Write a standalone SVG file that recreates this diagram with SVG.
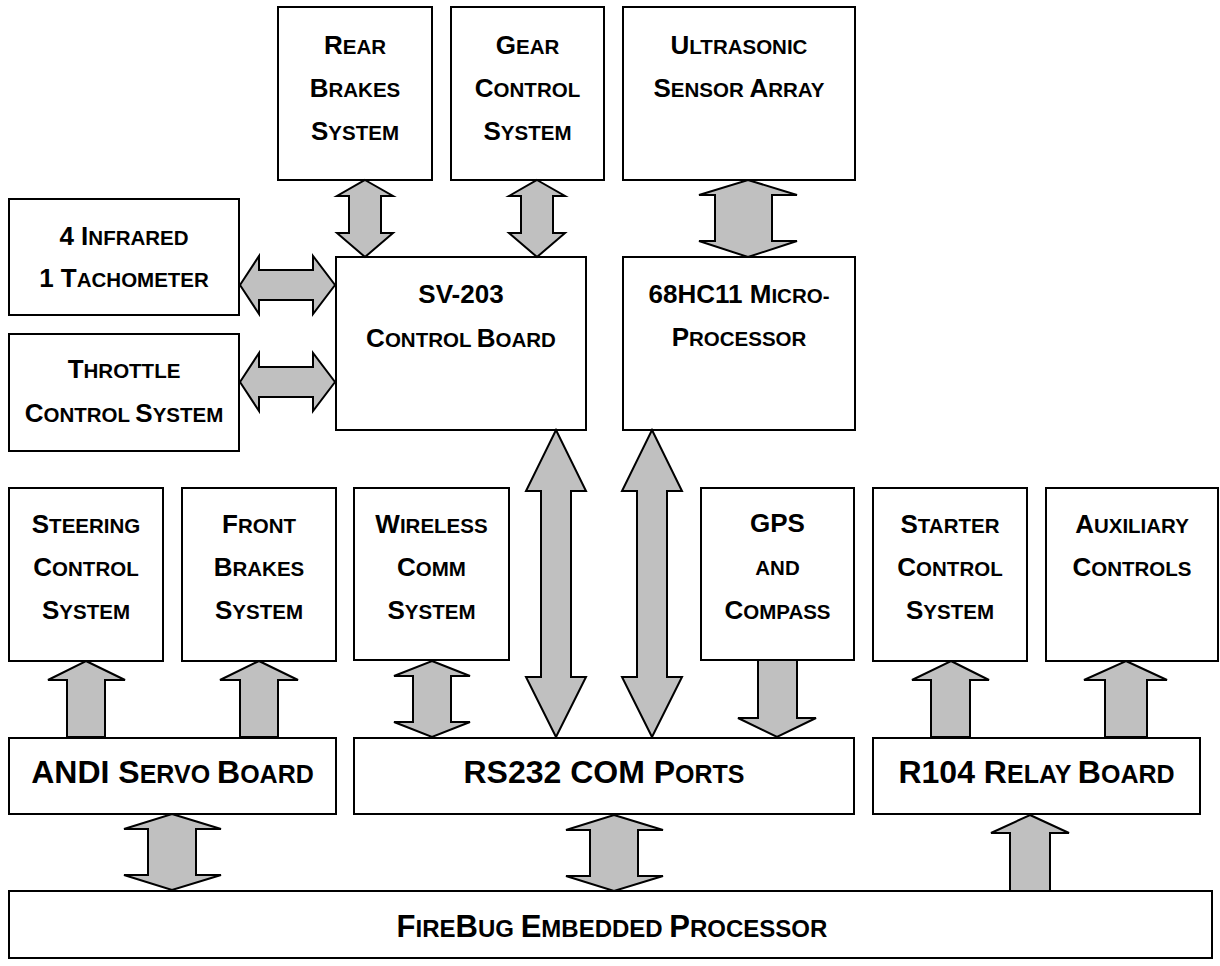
<svg xmlns="http://www.w3.org/2000/svg" width="1220" height="966" viewBox="0 0 1220 966">
<style>
.box{fill:#fff;stroke:#000;stroke-width:2}
.ar{fill:#c0c0c0;stroke:#000;stroke-width:2;stroke-linejoin:miter}
text{font-family:"Liberation Sans",Arial,sans-serif;font-weight:bold;fill:#000;text-anchor:middle}
.t{font-size:26px}
.s{font-size:20.5px}
.T{font-size:32px}
.S{font-size:25px}
.F{font-size:31px}
.f{font-size:24px}
</style>
<rect width="1220" height="966" fill="#fff"/>

<g id="rear"><rect class="box" x="278" y="7" width="154" height="173"/>
<text class="t" x="355" y="54">R<tspan class="s">EAR</tspan></text>
<text class="t" x="355" y="97">B<tspan class="s">RAKES</tspan></text>
<text class="t" x="355" y="140">S<tspan class="s">YSTEM</tspan></text></g>

<g id="gear"><rect class="box" x="451" y="7" width="153" height="173"/>
<text class="t" x="527.5" y="54">G<tspan class="s">EAR</tspan></text>
<text class="t" x="527.5" y="97">C<tspan class="s">ONTROL</tspan></text>
<text class="t" x="527.5" y="140">S<tspan class="s">YSTEM</tspan></text></g>

<g id="ultrasonic"><rect class="box" x="623" y="7" width="232" height="173"/>
<text class="t" x="739" y="54">U<tspan class="s">LTRASONIC</tspan></text>
<text class="t" x="739" y="97">S<tspan class="s">ENSOR </tspan>A<tspan class="s">RRAY</tspan></text></g>

<g id="infrared"><rect class="box" x="9" y="199" width="230" height="116"/>
<text class="t" x="124" y="245">4 I<tspan class="s">NFRARED</tspan></text>
<text class="t" x="124" y="287">1 T<tspan class="s">ACHOMETER</tspan></text></g>

<g id="throttle"><rect class="box" x="9" y="334" width="230" height="117"/>
<text class="t" x="124" y="378">T<tspan class="s">HROTTLE</tspan></text>
<text class="t" x="124" y="422">C<tspan class="s">ONTROL </tspan>S<tspan class="s">YSTEM</tspan></text></g>

<g id="sv203"><rect class="box" x="336" y="257" width="250" height="173"/>
<text class="t" x="461" y="303">SV-203</text>
<text class="t" x="461" y="347">C<tspan class="s">ONTROL </tspan>B<tspan class="s">OARD</tspan></text></g>

<g id="hc11"><rect class="box" x="623" y="257" width="232" height="173"/>
<text class="t" x="739" y="303">68HC11 M<tspan class="s">ICRO-</tspan></text>
<text class="t" x="739" y="346">P<tspan class="s">ROCESSOR</tspan></text></g>

<g id="steering"><rect class="box" x="9" y="488" width="154" height="173"/>
<text class="t" x="86" y="533">S<tspan class="s">TEERING</tspan></text>
<text class="t" x="86" y="576">C<tspan class="s">ONTROL</tspan></text>
<text class="t" x="86" y="619">S<tspan class="s">YSTEM</tspan></text></g>

<g id="front"><rect class="box" x="182" y="488" width="154" height="173"/>
<text class="t" x="259" y="533">F<tspan class="s">RONT</tspan></text>
<text class="t" x="259" y="576">B<tspan class="s">RAKES</tspan></text>
<text class="t" x="259" y="619">S<tspan class="s">YSTEM</tspan></text></g>

<g id="wireless"><rect class="box" x="354" y="488" width="155" height="172"/>
<text class="t" x="431.5" y="533">W<tspan class="s">IRELESS</tspan></text>
<text class="t" x="431.5" y="576">C<tspan class="s">OMM</tspan></text>
<text class="t" x="431.5" y="619">S<tspan class="s">YSTEM</tspan></text></g>

<g id="gps"><rect class="box" x="701" y="488" width="153" height="172"/>
<text class="t" x="777.5" y="532">GPS</text>
<text class="s" x="777.5" y="575">AND</text>
<text class="t" x="777.5" y="619">C<tspan class="s">OMPASS</tspan></text></g>

<g id="starter"><rect class="box" x="873" y="488" width="154" height="173"/>
<text class="t" x="950" y="533">S<tspan class="s">TARTER</tspan></text>
<text class="t" x="950" y="576">C<tspan class="s">ONTROL</tspan></text>
<text class="t" x="950" y="619">S<tspan class="s">YSTEM</tspan></text></g>

<g id="auxiliary"><rect class="box" x="1046" y="488" width="172" height="173"/>
<text class="t" x="1132" y="533">A<tspan class="s">UXILIARY</tspan></text>
<text class="t" x="1132" y="576">C<tspan class="s">ONTROLS</tspan></text></g>

<g id="andi"><rect class="box" x="9" y="738" width="327" height="76"/>
<text class="T" x="172.5" y="783">ANDI S<tspan class="S">ERVO </tspan>B<tspan class="S">OARD</tspan></text></g>

<g id="rs232"><rect class="box" x="354" y="738" width="500" height="76"/>
<text class="T" x="604" y="783">RS232 COM P<tspan class="S">ORTS</tspan></text></g>

<g id="r104"><rect class="box" x="873" y="738" width="327" height="76"/>
<text class="T" x="1036.5" y="783">R104 R<tspan class="S">ELAY </tspan>B<tspan class="S">OARD</tspan></text></g>

<g id="firebug"><rect class="box" x="9" y="891" width="1203" height="67"/>
<text class="F" x="612" y="937">F<tspan class="f">IRE</tspan>B<tspan class="f">UG </tspan>E<tspan class="f">MBEDDED </tspan>P<tspan class="f">ROCESSOR</tspan></text></g>

<g id="connectors">
<!-- rear <-> sv203 -->
<polygon class="ar" points="365,180 393,196 381,196 381,233 393,233 365,257 337,233 349,233 349,196 337,196"/>
<!-- gear <-> sv203 -->
<polygon class="ar" points="537,180 565,196 553,196 553,233 565,233 537,257 509,233 521,233 521,196 509,196"/>
<!-- ultrasonic <-> 68hc11 -->
<polygon class="ar" points="748,180 797,195 772,195 772,241 797,241 748,257 699,241 715,241 715,195 699,195"/>
<!-- infrared <-> sv203 -->
<polygon class="ar" points="240,285 259,256 259,270 313,270 313,256 335,285 313,314 313,300 259,300 259,314"/>
<!-- throttle <-> sv203 -->
<polygon class="ar" points="240,382 259,353 259,367 313,367 313,353 335,382 313,411 313,397 259,397 259,411"/>
<!-- sv203 <-> rs232 -->
<polygon class="ar" points="556,430 586,491 571,491 571,677 586,677 556,737 526,677 541,677 541,491 526,491"/>
<!-- 68hc11 <-> rs232 -->
<polygon class="ar" points="652,430 682,491 667,491 667,677 682,677 652,737 622,677 637,677 637,491 622,491"/>
<!-- wireless <-> rs232 -->
<polygon class="ar" points="432,661 470,676 451,676 451,722 470,722 432,737 394,722 413,722 413,676 394,676"/>
<!-- andi -> steering -->
<polygon class="ar" points="86,661 125,680 105,680 105,737 67,737 67,680 48,680"/>
<!-- andi -> front brakes -->
<polygon class="ar" points="259,661 298,680 278,680 278,737 240,737 240,680 220,680"/>
<!-- gps -> rs232 -->
<polygon class="ar" points="758,660 797,660 797,718 816,718 777,737 738,718 758,718"/>
<!-- r104 -> starter -->
<polygon class="ar" points="951,661 989,680 970,680 970,737 931,737 931,680 912,680"/>
<!-- r104 -> auxiliary -->
<polygon class="ar" points="1126,661 1167,680 1147,680 1147,737 1105,737 1105,680 1084,680"/>
<!-- andi <-> firebug -->
<polygon class="ar" points="172,814 221,829 196,829 196,875 221,875 172,890 124,875 148,875 148,829 124,829"/>
<!-- rs232 <-> firebug -->
<polygon class="ar" points="614,815 663,830 638,830 638,876 663,876 614,891 566,876 590,876 590,830 566,830"/>
<!-- firebug -> r104 -->
<polygon class="ar" points="1030,815 1069,833 1050,833 1050,891 1010,891 1010,833 991,833"/>
</g>
</svg>
